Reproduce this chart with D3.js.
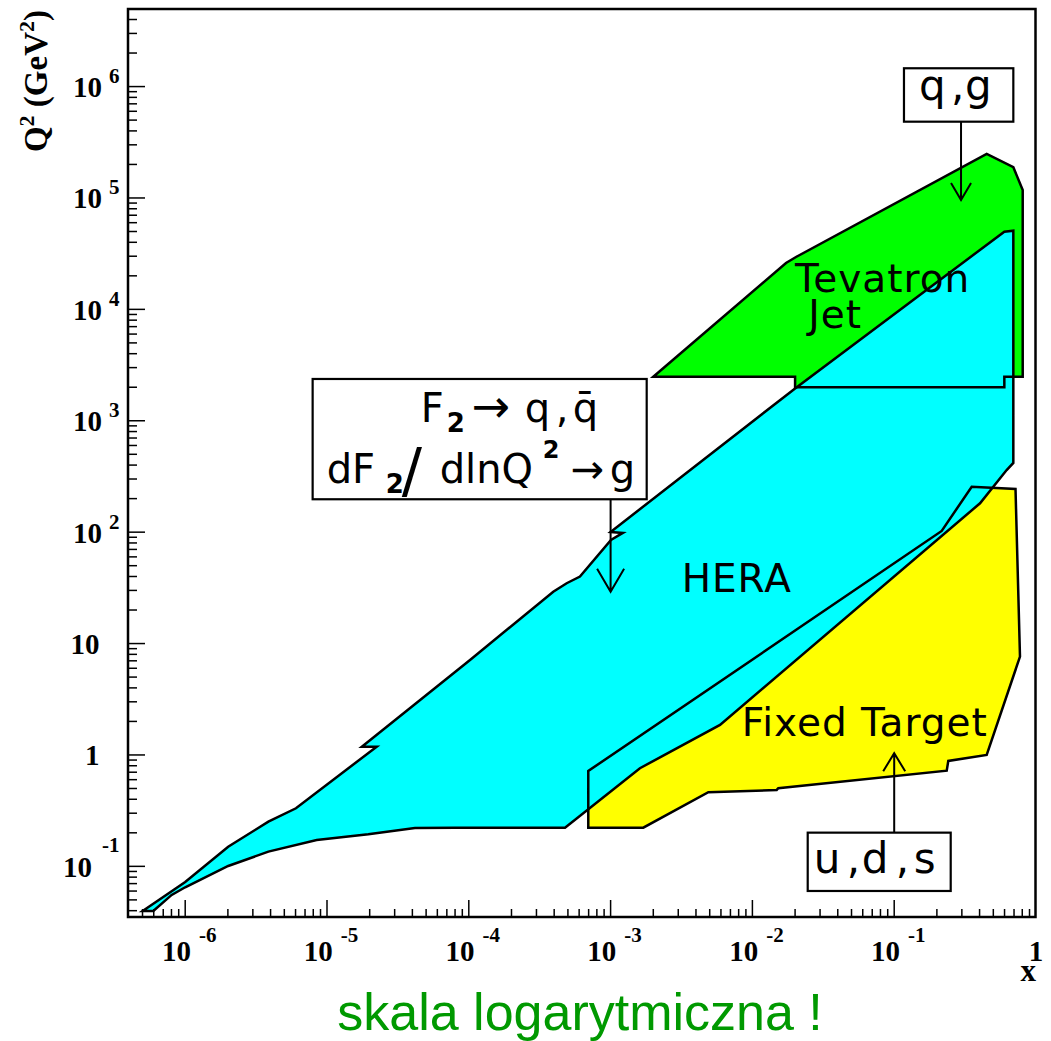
<!DOCTYPE html>
<html>
<head>
<meta charset="utf-8">
<script src="https://cdn.jsdelivr.net/npm/d3@7"></script>
<style>
  body { margin: 0; background: #fff; }
  svg { display: block; }
</style>
</head>
<body>
<svg id="chart" width="1051" height="1041"></svg>
<script>
// HERA region (x, Q2), going round the polygon
var heraX = [5.01e-7, 1.0e-6, 2.01e-6, 3.86e-6, 6.04e-6, 2.24e-5, 1.76e-5, 1.02e-4, 3.94e-4, 4.90e-4,
	6.08e-4, 1.006e-3, 1.22e-3, 1.0e-3, 0.02, 0.598, 0.692, 0.692, 0.621, 0.403,
	5.91e-3, 1.61e-3, 4.77e-4, 7.99e-5, 4.17e-5, 1.955e-5, 8.46e-6, 3.86e-6, 2.01e-6, 1.0e-6,
	8.03e-7, 5.96e-7];
var heraQ2 = [0.0398, 0.0724, 0.150, 0.252, 0.332, 1.187, 1.187, 7.13, 29.2, 34.8,
	39.9, 85.1, 98.4, 100.4, 1950, 49830, 50870, 418, 361, 181.7,
	1.86, 0.76, 0.2225, 0.2225, 0.2212, 0.194, 0.1726, 0.1355, 0.1008, 0.0649,
	0.0554, 0.0398];

// Fixed target region
var fixedX = [6.96e-4, 6.96e-4, 0.2163, 0.352, 0.717, 0.771, 0.449, 0.2407, 0.2346, 0.01523,
	0.01484, 4.89e-3, 1.70e-3];
var fixedQ2 = [0.2225, 0.718, 102.5, 256, 244, 7.63, 1.0, 0.884, 0.723, 0.5025,
	0.485, 0.4626, 0.2225];

// Tevatron jet region
var tevX = [2.0e-3, 0.01726, 0.0203, 0.449, 0.692, 0.806, 0.806, 0.598, 0.598, 0.02, 0.02];
var tevQ2 = [2480, 26090, 29540, 248300, 188700, 117960, 2480, 2480, 1999, 1999, 2480];

// axis ticks and labels
var xMajor = [1e-6, 1e-5, 1e-4, 1e-3, 1e-2, 1e-1, 1];
var xBase = ["10", "10", "10", "10", "10", "10", "1"];
var xExp = ["-6", "-5", "-4", "-3", "-2", "-1", ""];
var yMajor = [0.1, 1, 10, 100, 1e3, 1e4, 1e5, 1e6];
var yBase = ["10", "1", "10", "10", "10", "10", "10", "10"];
var yExp = ["-1", "", "", "2", "3", "4", "5", "6"];

// region names: [text, x, Q2] (start of the text baseline)
var regionLabels = [
	["Tevatron", 0.02, 14420],
	["Jet", 0.0248, 6763],
	["HERA", 3.17e-3, 29.2],
	["Fixed Target", 8.4e-3, 1.48]
];

// annotation boxes: [x0, x1, Q2 top, Q2 bottom]
var qgBox = [0.1172, 0.692, 1.46e6, 4.84e5];
var f2Box = [7.92e-6, 1.797e-3, 2372, 197.4];
var udsBox = [0.02455, 0.2503, 0.2007, 0.0601];
// arrows: [x, Q2 from, Q2 to]
var qgArrow = [0.296, 4.84e5, 95950];
var f2Arrow = [1e-3, 197.4, 29.2];
var udsArrow = [0.1, 0.2007, 1.036];

var svg = d3.select("#chart");

var x = d3.scaleLog().domain([3.95e-7, 1]).range([128, 1036]);
var y = d3.scaleLog().domain([0.0351, 4.97e6]).range([917, 9]);

var serif = "'Liberation Serif', 'Times New Roman', serif";
var sans = "'DejaVu Sans', sans-serif";

var polyLine = d3.line()
	.x(function(d) {return x(d[0]);})
	.y(function(d) {return y(d[1]);});

var regions = [
	{xs: tevX, qs: tevQ2, color: "#00ff00"},
	{xs: fixedX, qs: fixedQ2, color: "#ffff00"},
	{xs: heraX, qs: heraQ2, color: "#00ffff"}
];
regions.forEach(function(r) {
	r.pts = r.xs.map(function(v, i) {return [v, r.qs[i]];});
});

// fills first, outlines on top
svg.append("g").selectAll("path")
	.data(regions)
	.enter()
	.append("path")
	.attr("d", function(d) {return polyLine(d.pts) + "Z";})
	.attr("fill", function(d) {return d.color;})
	.attr("stroke", "none");

svg.append("g").selectAll("path")
	.data(regions)
	.enter()
	.append("path")
	.attr("d", function(d) {return polyLine(d.pts) + "Z";})
	.attr("fill", "none")
	.attr("stroke", "#000")
	.attr("stroke-width", 2.5)
	.attr("stroke-linejoin", "miter");

// region names
svg.append("g").selectAll("text")
	.data(regionLabels)
	.enter()
	.append("text")
	.attr("x", function(d) {return x(d[1]);})
	.attr("y", function(d) {return y(d[2]);})
	.attr("font-family", sans)
	.attr("font-size", 39)
	.attr("letter-spacing", 1)
	.text(function(d) {return d[0];});

// frame
svg.append("rect")
	.attr("x", 128).attr("y", 9)
	.attr("width", 1035.5 - 128).attr("height", 917 - 9)
	.attr("fill", "none")
	.attr("stroke", "#000")
	.attr("stroke-width", 2.5);

// ticks
var xMinor = x.ticks().filter(function(v) {return xMajor.indexOf(v) < 0;});
var yMinor = y.ticks().filter(function(v) {return yMajor.indexOf(v) < 0;});
var ticks = svg.append("g").attr("stroke", "#000").attr("stroke-width", 1.5);

ticks.selectAll(".xt")
	.data(xMajor.concat(xMinor).filter(function(v) {return x(v) > 129 && x(v) < 1034;}))
	.enter()
	.append("line")
	.attr("x1", function(d) {return x(d);})
	.attr("x2", function(d) {return x(d);})
	.attr("y1", 917)
	.attr("y2", function(d) {return xMajor.indexOf(d) >= 0 ? 900 : 909;});

ticks.selectAll(".yt")
	.data(yMajor.concat(yMinor).filter(function(v) {return y(v) > 10 && y(v) < 916;}))
	.enter()
	.append("line")
	.attr("y1", function(d) {return y(d);})
	.attr("y2", function(d) {return y(d);})
	.attr("x1", 128)
	.attr("x2", function(d) {return yMajor.indexOf(d) >= 0 ? 145 : 137;});

// x tick labels
xMajor.forEach(function(v, i) {
	var t = svg.append("text")
		.attr("font-family", serif)
		.attr("font-weight", "bold")
		.attr("font-size", 29)
		.attr("y", 961);
	if (xExp[i] === "") {
		t.attr("x", x(v)).attr("text-anchor", "middle").text(xBase[i]);
	} else {
		t.attr("x", x(v) + 4).attr("text-anchor", "middle");
		t.append("tspan").text(xBase[i]);
		t.append("tspan").attr("dx", 8).attr("dy", -19).attr("font-size", 21).text(xExp[i]);
	}
});

// y tick labels
yMajor.forEach(function(v, i) {
	var t = svg.append("text")
		.attr("font-family", serif)
		.attr("font-weight", "bold")
		.attr("font-size", 29)
		.attr("y", y(v) + 10.5)
		.attr("text-anchor", "end");
	if (yExp[i] === "") {
		t.attr("x", 99.5).text(yBase[i]);
	} else {
		var neg = yExp[i].charAt(0) === "-";
		t.attr("x", 119.5);
		t.append("tspan").text(yBase[i]);
		t.append("tspan").attr("dx", neg ? 10 : 7).attr("dy", neg ? -25 : -14)
			.attr("font-size", 21).text(yExp[i]);
	}
});

// axis titles
svg.append("text")
	.attr("x", 1036).attr("y", 981)
	.attr("text-anchor", "end")
	.attr("font-family", serif).attr("font-weight", "bold").attr("font-size", 31)
	.text("x");

var yt = svg.append("text")
	.attr("transform", "translate(47,10) rotate(-90)")
	.attr("text-anchor", "end")
	.attr("font-family", serif).attr("font-weight", "bold").attr("font-size", 33);
yt.append("tspan").text("Q");
yt.append("tspan").attr("dy", -13).attr("font-size", 22).text("2");
yt.append("tspan").attr("dy", 13).text(" (GeV");
yt.append("tspan").attr("dy", -13).attr("font-size", 22).text("2");
yt.append("tspan").attr("dy", 13).text(")");

// boxed notes; segments are [text, dx, baseline, size, weight] inside the box
function noteBox(b, segs) {
	var x0 = x(b[0]), x1 = x(b[1]), y0 = y(b[2]), y1 = y(b[3]);
	svg.append("rect")
		.attr("x", x0).attr("y", y0)
		.attr("width", x1 - x0).attr("height", y1 - y0)
		.attr("fill", "#fff")
		.attr("stroke", "#000")
		.attr("stroke-width", 2.2);
	svg.append("g").selectAll("text")
		.data(segs)
		.enter()
		.append("text")
		.attr("x", function(d) {return x0 + d[1];})
		.attr("y", function(d) {return y0 + d[2];})
		.attr("font-family", sans)
		.attr("font-size", function(d) {return d[3];})
		.attr("font-weight", function(d) {return d[4] || "normal";})
		.text(function(d) {return d[0];});
}

function arrow(a, wing, len) {
	var ax = x(a[0]), ya = y(a[1]), yb = y(a[2]);
	var dir = yb > ya ? -1 : 1;
	svg.append("path")
		.attr("d", "M" + ax + "," + ya + "L" + ax + "," + yb +
			"M" + (ax - wing) + "," + (yb + dir * len) + "L" + ax + "," + yb +
			"L" + (ax + wing) + "," + (yb + dir * len))
		.attr("fill", "none")
		.attr("stroke", "#000")
		.attr("stroke-width", 2);
}

noteBox(qgBox, [["q", 15, 32, 42], [",", 47, 32, 42], ["g", 61, 32, 42]]);
arrow(qgArrow, 10, 17);

noteBox(f2Box, [
	["F", 108, 43, 40], ["2", 134, 53, 26, "bold"], ["\u2192", 159, 43, 46],
	["q", 212, 43, 40], [",", 243, 43, 40], ["q\u0304", 260, 43, 40],
	["dF", 14, 104, 40], ["2", 73, 114, 26, "bold"], ["/", 89, 112, 60],
	["dlnQ", 127, 104, 40], ["2", 230, 79, 24, "bold"], ["\u2192", 258, 104, 40], ["g", 297, 104, 40]
]);
arrow(f2Arrow, 13.5, 23);

noteBox(udsBox, [["u", 6, 40, 42], [",", 39, 40, 42], ["d", 54, 40, 42], [",", 88, 40, 42], ["s", 106, 40, 42]]);
arrow(udsArrow, 11, 18);

// caption
svg.append("text")
	.attr("x", 580).attr("y", 1030)
	.attr("text-anchor", "middle")
	.attr("font-family", "'Liberation Sans', Arial, sans-serif")
	.attr("font-size", 52)
	.attr("fill", "#009900")
	.text("skala logarytmiczna !");
</script>
</body>
</html>
